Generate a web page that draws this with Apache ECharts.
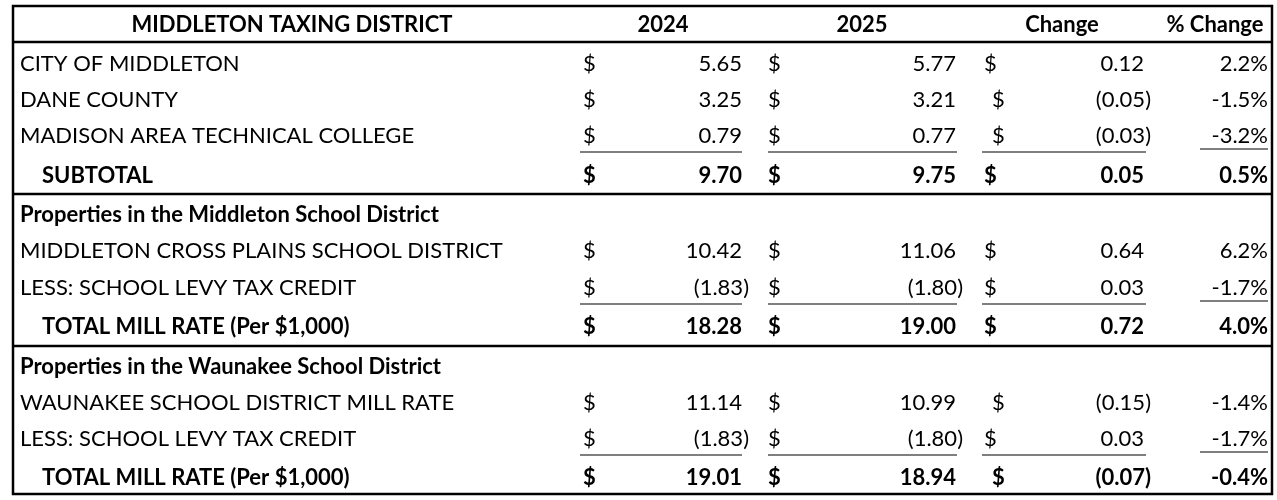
<!DOCTYPE html>
<html><head><meta charset="utf-8">
<script src="https://cdn.jsdelivr.net/npm/echarts@6/dist/echarts.min.js"></script>
<style>html,body{margin:0;padding:0;background:#fff}#c{width:1277px;height:500px}</style>
</head><body><div id="c"></div>
<script>
var headers = ['MIDDLETON TAXING DISTRICT', '2024', '2025', 'Change', '% Change'];
var labels = ['CITY OF MIDDLETON', 'DANE COUNTY', 'MADISON AREA TECHNICAL COLLEGE', 'SUBTOTAL',
  'Properties in the Middleton School District', 'MIDDLETON CROSS PLAINS SCHOOL DISTRICT', 'LESS: SCHOOL LEVY TAX CREDIT', 'TOTAL MILL RATE (Per $1,000)',
  'Properties in the Waunakee School District', 'WAUNAKEE SCHOOL DISTRICT MILL RATE', 'LESS: SCHOOL LEVY TAX CREDIT', 'TOTAL MILL RATE (Per $1,000)'];
var v2024 = [5.65, 3.25, 0.79, 9.70, null, 10.42, -1.83, 18.28, null, 11.14, -1.83, 19.01];
var v2025 = [5.77, 3.21, 0.77, 9.75, null, 11.06, -1.80, 19.00, null, 10.99, -1.80, 18.94];
var change = [0.12, -0.05, -0.03, 0.05, null, 0.64, 0.03, 0.72, null, -0.15, 0.03, -0.07];
var pctChange = [2.2, -1.5, -3.2, 0.5, null, 6.2, -1.7, 4.0, null, -1.4, -1.7, -0.4];
var rowKind = ['n', 'n', 'u', 't', 's', 'n', 'u', 't', 's', 'n', 'u', 't'];

// layout (pixels)
var rowY = [64, 100, 136, 176, 215, 251, 288, 327, 367, 403, 439, 478];
var FONT = 'Lato, "Liberation Sans", sans-serif';
var FS = 22;
var cols = [
  {d: 583, r: 742, uL: 580, uR: 742},
  {d: 768, r: 956, uL: 768, uR: 957},
  {d: 984, r: 1144, uL: 982, uR: 1146}
];
var pctR = 1268;

function fmt(v) { var s = Math.abs(v).toFixed(2); return v < 0 ? '(' + s + ')' : s; }
function fmtP(v) { return v.toFixed(1) + '%'; }

var chart = echarts.init(document.getElementById('c'));
var data = labels.map(function (l, i) { return [i]; });

function txt(x, y, s, bold, align) {
  return {type: 'text', style: {x: x, y: y, text: s, font: (bold ? 'bold ' : '') + FS + 'px ' + FONT,
    fill: '#000', align: align || 'left', verticalAlign: 'middle'}};
}
function line(x1, y1, x2, y2, w) {
  return {type: 'line', shape: {x1: x1, y1: y1, x2: x2, y2: y2}, style: {stroke: '#000', lineWidth: w}};
}

chart.setOption({
  animation: false,
  grid: {left: 0, right: 0, top: 0, bottom: 0},
  xAxis: {type: 'value', min: 0, max: 1277, show: false},
  yAxis: {type: 'value', min: 0, max: 500, inverse: true, show: false},
  series: [{
    type: 'custom',
    coordinateSystem: 'cartesian2d',
    data: data,
    renderItem: function (params, api) {
      var i = api.value(0);
      var kind = rowKind[i];
      var P = function (x, y) { return api.coord([x, y]); };
      var y = rowY[i];
      var ch = [];
      var bold = kind === 't' || kind === 's';
      var lx = kind === 't' ? 42 : 20;
      var p = P(lx, y);
      ch.push(txt(p[0], p[1], labels[i], bold));
      if (kind !== 's') {
        [v2024[i], v2025[i], change[i]].forEach(function (v, k) {
          var c = cols[k];
          var dx = (k === 2 && v < 0) ? 8 : 0;
          var pd = P(c.d + dx, y);
          ch.push(txt(pd[0], pd[1], '$', bold));
          var pv = P(c.r + (v < 0 ? 7 : 0), y);
          ch.push(txt(pv[0], pv[1], fmt(v), bold, 'right'));
          if (kind === 'u') {
            var a = P(c.uL, y + 16), b = P(c.uR, y + 16);
            ch.push(line(a[0], a[1], b[0], b[1], 1.2));
          }
        });
        var pp = P(pctR, y);
        ch.push(txt(pp[0], pp[1], fmtP(pctChange[i]), bold, 'right'));
        if (kind === 'u') {
          var a = P(1200, y + 13), b = P(pctR, y + 13);
          ch.push(line(a[0], a[1], b[0], b[1], 1.2));
        }
      }
      if (i === 0) {
        var hy = 25;
        var hx = [292, 663, 862, 1062, 1215];
        headers.forEach(function (h, k) {
          var q = P(hx[k], hy);
          ch.push(txt(q[0], q[1], h, true, 'center'));
        });
        [42, 194, 346].forEach(function (ly) {
          var a = P(13, ly), b = P(1272, ly);
          ch.push(line(a[0], a[1], b[0], b[1], 2.5));
        });
        var tl = P(13, 6), br = P(1272, 494);
        ch.push({type: 'rect', shape: {x: tl[0], y: tl[1], width: br[0] - tl[0], height: br[1] - tl[1]},
          style: {fill: null, stroke: '#000', lineWidth: 2.5}});
      }
      return {type: 'group', children: ch};
    }
  }]
});
</script></body></html>
